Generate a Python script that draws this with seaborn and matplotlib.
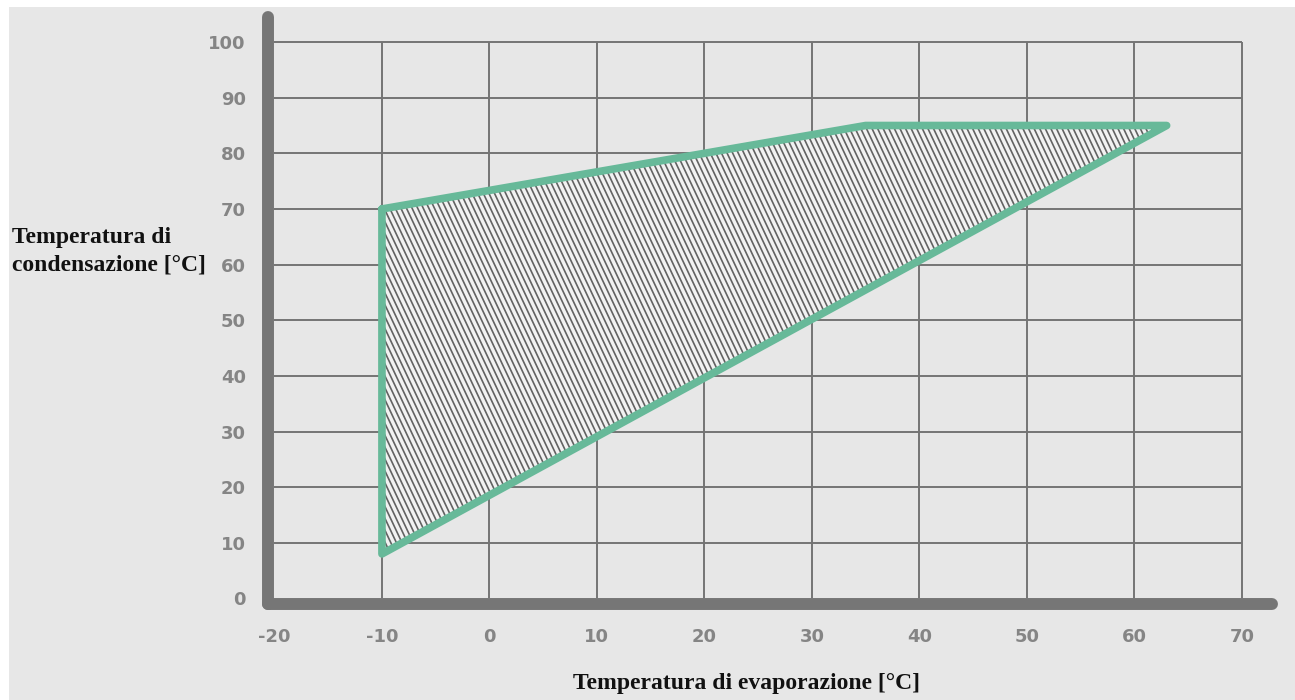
import numpy as np
import pandas as pd
import matplotlib
matplotlib.use("Agg")
import matplotlib.pyplot as plt
import seaborn as sns
from matplotlib.patches import Polygon, Rectangle
from matplotlib.collections import LineCollection

# Operating envelope of the compressor (evaporation vs condensation temperature)
t_evap = [-10, 35, 63, -10]
t_cond = [70, 85, 85, 8]

x_ticks = [-20, -10, 0, 10, 20, 30, 40, 50, 60, 70]
y_ticks = [0, 10, 20, 30, 40, 50, 60, 70, 80, 90, 100]

x_label = "Temperatura di evaporazione [°C]"
y_label = "Temperatura di\ncondensazione [°C]"

BG = "#e7e7e7"
GRID = "#747474"
SPINE = "#767676"
GREEN = "#67b999"
TICK = "#858585"

sns.set_theme(style="white")
plt.rcParams["font.family"] = ["DejaVu Sans"]
plt.rcParams["axes.unicode_minus"] = False

W, H = 1295, 700
fig = plt.figure(figsize=(W / 100, H / 100), dpi=100, facecolor="white")
fig.patches.append(Rectangle((9 / W, 0), 1, (H - 7) / H, transform=fig.transFigure,
                             facecolor=BG, edgecolor="none", zorder=-10))

ax = fig.add_axes([268 / W, (H - 604) / H, (1272 - 268) / W, (604 - 17) / H])
ax.set_facecolor("none")
ax.set_xlim(-20.6, 72.8)
ax.set_ylim(-1.0, 104.5)

# grid confined to the 0..100 / -20..70 box
ax.hlines(y_ticks[1:], x_ticks[0], x_ticks[-1], color=GRID, lw=1.4, zorder=1)
ax.vlines(x_ticks[1:], y_ticks[0], y_ticks[-1], color=GRID, lw=1.4, zorder=1)

df = pd.DataFrame({"evap": t_evap, "cond": t_cond})
verts = np.column_stack([df["evap"], df["cond"]])

# light fill with dense steep hatching clipped to the envelope
fill = Polygon(verts, closed=True, facecolor="#f2f2f2", edgecolor="none", zorder=2)
ax.add_patch(fill)
slope = -4.1
offsets = np.arange(-45, 75, 0.52)
segs = [[(o, 110), (o + (110 - (-5)) / -slope, -5)] for o in offsets]
hatch = LineCollection(segs, colors="#626262", linewidths=1.2, zorder=3)
ax.add_collection(hatch)
hatch.set_clip_path(fill)

# envelope outline
sns.lineplot(x=t_evap + t_evap[:1], y=t_cond + t_cond[:1], sort=False,
             estimator=None, ax=ax, color=GREEN, lw=5.5, zorder=4)
ax.lines[-1].set_solid_joinstyle("round")
ax.lines[-1].set_solid_capstyle("round")

for side in ["top", "right"]:
    ax.spines[side].set_visible(False)
for side in ["left", "bottom"]:
    ax.spines[side].set_color(SPINE)
    ax.spines[side].set_linewidth(8.6)
    ax.spines[side].set_capstyle("round")
    ax.spines[side].set_zorder(5)

ax.set_xticks(x_ticks)
ax.set_yticks(y_ticks)
ax.tick_params(axis="both", length=0, colors=TICK, labelsize=13)
ax.tick_params(axis="y", pad=16)
ax.tick_params(axis="x", pad=17)
for lab in ax.get_xticklabels() + ax.get_yticklabels():
    lab.set_fontweight("bold")
ax.set_xlabel("")
ax.set_ylabel("")

fig.text(746 / W, 1 - 683 / H, x_label, ha="center", va="center",
         family="Liberation Serif", fontweight="bold", fontsize=17, color="#111111")
fig.text(12 / W, 1 - 251 / H, y_label, ha="left", va="center", linespacing=1.4,
         family="Liberation Serif", fontweight="bold", fontsize=17, color="#111111")

fig.savefig("out.png", dpi=100, facecolor="white")
